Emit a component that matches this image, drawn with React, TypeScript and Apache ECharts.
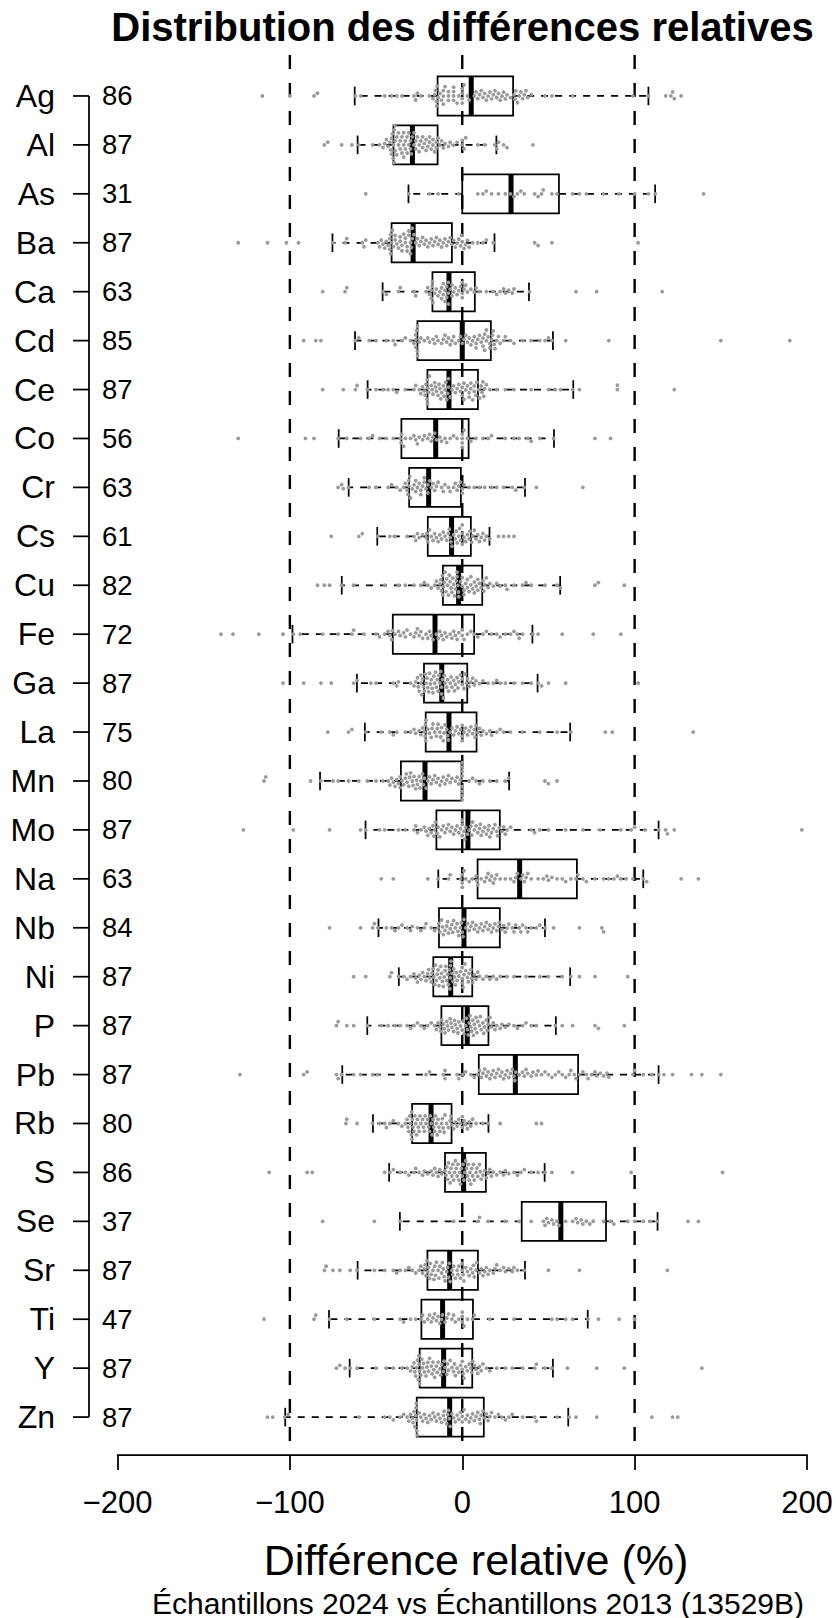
import React, { useEffect, useRef } from "react";
import * as echarts from "echarts";

// ---------------- DATA ----------------
const elements = ["Ag","Al","As","Ba","Ca","Cd","Ce","Co","Cr","Cs","Cu","Fe","Ga","La","Mn","Mo","Na","Nb","Ni","P","Pb","Rb","S","Se","Sr","Ti","Y","Zn"];
const counts = [86,87,31,87,63,85,87,56,63,61,82,72,87,75,80,87,63,84,87,87,87,80,86,37,87,47,87,87];

const whiskerLow  = [-62.4,-60.7,-31.2,-75.3,-46.2,-62.2,-54.9,-71.7,-65.9,-49.3,-69.9,-98.5,-61.1,-56.5,-82.5,-56.1,-13.9,-48.6,-36.8,-55.1,-69.6,-51.8,-42.4,-36.2,-60.7,-77.3,-65.3,-102.7];
const quart1      = [-14.3,-39.9,0,-41,-17.3,-26,-20.2,-35.3,-30.8,-20,-11.2,-40.3,-22.2,-21.2,-35.6,-15,8.9,-13.5,-16.8,-12.1,9.6,-29.1,-10,34.5,-20.2,-23.7,-24.7,-26.4];
const medians     = [5.2,-28.9,28.3,-28.5,-7.7,0,-7.7,-15.4,-19.5,-6.2,-2.1,-15.8,-11.9,-7.7,-21.6,3.3,33.3,1,-6.7,2.9,30.8,-18.1,0.8,57.2,-7.3,-11.4,-10.8,-7.3];
const quart3      = [29.5,-14.3,56.1,-6,7.3,16.6,9.1,3.7,-0.8,5,11.6,6.9,2.9,8.3,-0.4,21.8,66.5,21.8,5.8,15.2,67.2,-6.2,13.7,83.4,9.1,6.2,5.8,12.5];
const whiskerHigh = [108,19.8,111.9,18.7,38.7,52.6,64.4,53.2,36.4,15.8,56.8,40.7,43.7,62.6,27.2,113.9,105,48,62.6,54.3,113.9,15.2,47.8,113.3,36.4,72.8,52.6,61.5];

const xTicks = [-200, -100, 0, 100, 200];
const refLines = [-100, 0, 100];

const ptsAg = [-116,-100,-86,-84,-62,-59,-45,-41,-38,-35,-28,-27,-26,-24,-19,-17,-16,-15.5,-15,-14.8,-14.5,-14,-13,-12,-11,-11,-11,-10,-8,-8,-8,-5,-5,-5,-5,-3,-2,0,0,0,0,1,3,4,7,8,9,10,11,12,13,14,15,16,17,18,19,20,21,22,23,24,25,26,28,30,30.5,31,32,33,34,35,36,37,38,40,48,52,64,99,108,118,121,122,123,127];
const ptsAl = [-80,-78,-70,-64,-60,-52,-48,-46,-45,-44,-43,-42,-41.5,-41,-41,-40.5,-40,-40,-39.5,-39.5,-39,-39,-39,-38,-38,-37,-37,-36,-36,-35,-35,-34,-34,-34,-33,-33,-32,-32,-31,-31,-30,-30,-29.5,-29,-28,-28,-27,-27,-26,-25,-25,-24,-23,-23,-22,-21,-21,-20,-19,-19,-18,-17,-17,-16,-15,-15,-14,-13,-12,-11,-10,-8,-7,-5,-3,0,0,1,2,9,13,19,20,21,24,26,41];
const ptsAs = [-56,-31,-19,-14,-2,9,12,14,17,21,25,28,30,32,34,36,42,44,46,47,52,55,64,68,72,82,91,100,108,112,140];
const ptsBa = [-130,-113,-102,-95,-75,-68,-67,-58,-57,-56,-49,-48,-47,-46,-45,-44,-43,-42,-42,-41.5,-41.5,-41,-40.5,-40,-39,-39,-38,-37,-36,-36,-35,-35,-34,-33,-33,-32,-32,-31,-31,-30,-30,-29.5,-29,-29,-28,-27,-26,-25,-24,-23,-22,-21,-20,-19,-18,-17,-16,-15,-14,-13,-12,-11,-10,-9,-8,-7,-6,-5,-4,-3,-2,-1,-0.5,0,1,2,3,4,6,9,12,14,18,42,44,52,102];
const ptsCa = [-81,-68,-67,-46,-44,-37,-36,-28,-27,-21,-20,-19,-18,-18,-17.5,-17.3,-17,-16,-15,-14,-13,-12,-12,-11,-11,-10,-10,-9,-9,-8,-8,-8,-7,-6,-6,-5,-4,-3,-2,-1,0,0,0,1,2,3,5,7,8,10,14,18,20,22,24,25,27,29,30,39,66,78,116];
const ptsCd = [-92,-85,-82,-62,-60,-54,-50,-44,-40,-39,-35,-33,-30,-28,-27,-27,-27,-26.5,-26,-26,-26,-25,-24,-22,-20,-19,-17,-16,-15,-14,-12,-11,-10,-9,-8,-7,-6,-5,-4,-2,-1,0,1,2,3,4,5,6,7,8,8,9,10,11,12,12,13,13,14,14,15,16,16,17,17.5,18,18.5,19,20,21,22,24,25,28,30,35,40,45,48,50,52,60,85,150,190];
const ptsCe = [-81,-69,-62,-61,-55,-50,-46,-43,-40,-38,-33,-28,-27,-25,-24,-23,-22,-21.5,-21,-20.5,-20.3,-20.2,-20,-19.5,-19,-18,-17.5,-17,-16,-15.5,-15,-14,-13.5,-13,-12.5,-12,-11,-10.5,-10,-9.5,-9,-8.5,-8,-8,-7,-6,-5,-4,-3,-2,-1,0,0,1,1,2,3,4,4,5,5,6,7,7,8,8.5,9.5,10,11,11.5,12,12.5,13,14,16,20,25,30,40,50,54,57,64,68,90,90,123];
const ptsCo = [-130,-91,-86,-72,-67,-59,-54,-52,-48,-44,-40,-36,-35.5,-35.3,-34,-33,-30,-28,-27,-26,-25,-23,-22,-20,-19,-18,-17,-16,-15,-13,-12,-10,-9,-7,-5,-3,0,0,0,0,1,3,5,8,12,15,17,25,30,33,38,40,45,53,77,86];
const ptsCr = [-72,-70,-69,-66,-54,-50,-43,-41,-38,-36,-34,-33,-32,-31.5,-31,-31,-30.5,-30,-29,-28,-27,-27,-26,-25,-24,-24,-23,-22,-22,-21,-20,-20,-19,-18,-17,-16,-15,-14,-12,-11,-10,-8,-7,-5,-4,-3,-2,-1,0,0,1,4,7,10,13,17,20,24,29,31,36,43,70];
const ptsCs = [-76,-60,-58,-49,-42,-39,-32,-28,-27,-26,-25,-23,-21,-20.5,-20,-19,-18,-17,-16,-15,-14,-13,-12,-11,-10,-9,-8,-7.5,-7,-6.5,-6,-5,-4,-3.5,-3,-2,-1.5,-1,0,0,0,1,2,3,4,4.5,5.5,6,7,8,9,10,11,12,13,14,16,21,24,27,30];
const ptsCu = [-84,-80,-77,-70,-63,-45,-37,-33,-28,-24,-22,-20,-18,-16,-15,-14,-13,-12.5,-12,-11.5,-11.3,-11,-10.5,-10,-9.5,-9,-8.5,-8,-7.5,-7,-6.5,-6,-5.5,-5,-4.5,-4,-3.5,-3,-3,-2.5,-2.2,-2,-1,0,0,1,1,2,3,3,4,5,5,6,7,7,8,9,9,10,11,12,12.5,13,14,15,16,18,20,22,25,26,30,35,37,40,48,55,57,77,79,94];
const ptsFe = [-140,-133,-118,-104,-98,-94,-81,-72,-64,-63,-57,-50,-48,-45,-43,-42,-41,-40.5,-39,-37,-36,-34,-33,-32,-30,-28,-27,-26,-25,-24,-23,-21,-20,-19,-18,-17,-15,-14,-13,-12,-11,-10,-9,-7,-6,-5,-4,-3,-2,0,0,1,3,5,7,9,12,14,17,20,22,25,28,30,32,33,35,41,44,58,76,92];
const ptsGa = [-104,-92,-82,-76,-63,-61,-53,-50,-40,-38,-37,-30,-28,-27,-26,-25.5,-25,-24,-24,-23.5,-23,-22.5,-22,-21.5,-21,-20.5,-20,-19.5,-19,-18.5,-18,-17.5,-17,-16.5,-16,-15.5,-15,-14.5,-14,-13.5,-13,-12.5,-12,-12,-11.5,-11,-10.5,-10,-9,-8.5,-8,-7,-6.5,-6,-5,-4.5,-4,-3,-2.5,-2,-1,0,0,1,1.5,2.5,3,4,5,6,7,8,10,12,15,18,20,22,25,30,35,40,44,46,50,60,102];
const ptsLa = [-78,-66,-64,-56,-47,-42,-40,-38,-33,-30,-28,-27,-25,-24,-23,-22,-21.5,-21.3,-21.2,-21,-20,-19,-18,-17.5,-17,-16,-15,-14.5,-14,-13,-12.5,-12,-11,-10.5,-10,-9,-8.5,-8,-7,-6,-5,-4,-3,-2,-1,0,0,0,1,2,3,4,5,6,7,7.5,8,9,10,11,12,14,16,17,20,22,24,28,35,45,55,63,83,87,134];
const ptsMn = [-115,-114,-88,-82,-75,-72,-66,-60,-55,-50,-46,-43,-42,-41,-40,-39,-38,-37,-36,-36,-35,-34,-33,-32.5,-32,-31,-30.5,-30,-29,-28.5,-28,-27,-26.5,-26,-25,-24.5,-24,-23,-22.5,-22,-21,-20,-19,-18,-17,-16,-15,-14,-13,-12,-11,-10,-9,-8,-7,-6,-4,-3,-2,-1,0,0,0,0,0,0,0,0,4,6,8,10,12,16,20,25,27,48,50,55];
const ptsMo = [-127,-98,-77,-59,-56,-48,-45,-37,-33,-28,-27,-26,-24,-22,-21,-20,-19,-18,-17,-16.5,-16,-15.5,-14.5,-14,-13,-12,-11,-10,-9,-8,-7,-6,-5,-4,-3,-2,-1,0,0,0,1,1.5,2,3,4,5,5.5,6,7,8,9,10,10.5,11,12,13,14,15,15.5,16,17,18,19,20,20.5,21.5,23,24,25,26,28,40,42,45,50,60,70,80,92,98,100,106,114,118,119,123,197];
const ptsNa = [-47,-40,-20,-14,-8,-7,-1,0,0,0,1,2,4,6,8,8.5,9,11,13,14,15,16,17,18,19,20,22,25,28,30,31,32,34,35,36,37,38,40,44,47,49,50,52,55,58,60,63,66,67,70,72,77,82,85,88,90,92,95,99,105,107,127,137];
const ptsNb = [-77,-59,-52,-51,-49,-44,-41,-39,-37,-35,-32,-30,-29,-26,-24,-22,-21,-18,-16,-14,-13.6,-13,-12,-11.5,-11,-10,-9,-8.5,-8,-7,-6,-5.5,-5,-4,-3,-2.5,-2,-1,-0.5,0,0.5,1,2,3,4,5,6,7,8,9,10,11,12,13,14,15,16,17,18,19,20,21,21.5,23,24,25,26,27,29,30,31,33,34,35,37,38,40,43,45,48,53,68,81,82];
const ptsNi = [-63,-56,-42,-41,-37,-34,-32,-30,-28,-27,-26,-25,-24,-23,-22,-21,-20,-19.5,-19,-18,-17.5,-17,-16.5,-16,-15.5,-15,-14.5,-14,-13.5,-13,-12.5,-12,-11.5,-11,-10.5,-10,-9.5,-9,-8.5,-8,-7.5,-7.2,-7,-6.8,-6.5,-6,-5.5,-5,-4.5,-4,-3.5,-3,-2,-1,0,0,0,0.5,1,1.5,2,3,3.5,4,5,5.5,6,7,8,9,10,12,14,16,18,20,22,26,30,37,45,50,58,63,68,77,96];
const ptsP = [-73,-72,-67,-63,-55,-47,-43,-39,-36,-32,-30,-28,-26,-24,-22,-20,-18,-16,-15,-14,-13,-12.5,-12,-11,-10.5,-10,-9,-8.5,-8,-7,-6.5,-6,-5,-4.5,-4,-3,-2.5,-2,-1,0,0.5,1,2,2.5,3,3.5,4,4.5,5,5.5,6,6.5,7,7.5,8,8.5,9,10,10.5,11,12,12.5,13,14,14.5,15,16,17,18,19,20,22,23,25,27,30,32,35,37,40,43,54,58,64,77,79,94];
const ptsPb = [-129,-92,-90,-73,-72,-70,-63,-59,-52,-49,-21,-19,-11,-10,-10,-3,-2,0,2,5,7,9,10,11,12,13,14,15,16,17,18,19,20,21,22,23,24,25,26,27,28,29,30,30.5,31,33,35,36,37,38,40,41,43,44,46,48,50,52,54,56,58,60,62,63,65,66,68,70,72,73,75,77,78,80,82,84,85,99,100,105,110,114,117,122,133,139,150];
const ptsRb = [-67.5,-67,-61,-52,-48,-45,-44,-42,-40,-37,-35,-33,-32,-31.5,-31,-30.5,-30,-29.5,-29.3,-29.2,-29,-28.5,-28,-27.5,-27,-26.5,-26,-25.5,-25,-24.5,-24,-23,-22.5,-22,-21.5,-21,-20,-19.5,-19,-18.5,-18,-17.5,-17,-16.5,-16,-15.5,-15,-14.5,-14,-13.5,-13,-12,-11.5,-11,-10.5,-10,-9,-8,-7,-6.5,-6,-5,-4,-3,-2,-1,0,0,1,2,3,4,5,6,8,12,15,22,43,46];
const ptsS = [-112,-90,-87,-45,-42,-40,-36,-33,-31,-28,-27,-25,-23,-22,-20,-18,-17,-16,-15,-14,-13,-12,-10,-9.5,-9,-8.5,-8,-7.5,-7,-6.5,-6,-5.5,-5,-4.5,-4,-3.5,-3,-2.5,-2,-1.5,-1,-0.5,0,0.5,1,1.5,2,2.5,3,3.5,4,4.5,5,5.5,6,6.5,7,8,8.5,9,10,10.5,11,12,13,14,15,16,17,18,20,22,24,25,27,30,32,34,36,40,44,48,52,64,98,151];
const ptsSe = [-81,-51,-36,-5,9,10,15,25,33,40,47,48,49,50,52,53,55,56,60,64,66,67,69,70,72,74,76,82,86,88,96,100,105,109,113,131,137];
const ptsSr = [-80,-79,-75,-71,-65,-61,-51,-45,-40,-38,-36,-33,-31,-29,-27,-25,-24,-23,-22,-21.5,-21,-20.5,-20,-19.5,-19,-18.5,-18,-17,-16.5,-16,-15.5,-15,-14,-13.5,-13,-12,-11.5,-11,-10.5,-10,-9,-8.5,-8,-7.5,-7,-6,-5.5,-5,-4,-3,-2.5,-2,-1,0,0,0.5,1,2,3,4,5,6,6.5,7,8,8.5,10,11,12,13,14,15,16,18,19,20,22,24,25,27,29,30,32,36,50,68,119];
const ptsTi = [-115,-86,-85,-77,-67,-51,-36,-34,-30,-27,-24,-23,-22,-20,-19,-18,-17,-16,-15,-14,-13,-12,-11.5,-10,-9,-8,-6,-5,-4,-2,0,0,0,1,3,6,7,16,30,52,55,60,64,73,79,91,100];
const ptsY = [-73,-71,-68,-65,-61,-50,-44,-40,-35,-32,-30,-29,-28,-27.5,-27,-26.5,-26,-25.5,-25.2,-25,-24.8,-24.7,-24,-23.5,-23,-22.5,-22,-21,-20.5,-20,-19.5,-19,-18,-17.5,-17,-16.5,-16,-15,-14.5,-14,-13,-12.5,-12,-11,-10.5,-10,-9,-8.5,-8,-7,-6,-5,-4.5,-4,-3,-2,-1,0,0,0.5,1,2,3,4,5,5.5,6,7,8,9,10,11,12,14,16,20,25,29,35,42,43,48,52,61,78,94,139];
const ptsZn = [-113,-110,-103,-101,-60,-45,-42,-40,-36,-34,-32,-31,-30,-29,-28.5,-28,-27.5,-27,-26.8,-26.6,-26.5,-26.4,-26,-25,-24,-23,-22,-21,-20,-19,-18,-17,-16,-15,-14,-13,-12,-11,-10.5,-10,-9,-8.5,-8,-7.5,-7,-6,-5,-4,-3,-2,-1,0,0,1,2,3,4,5,6,7,8,9,10,10.5,11,12,13,14,15,16,17,19,21,23,25,27,29,35,42,43,55,62,66,78,110,122,125];

const points = [ptsAg, ptsAl, ptsAs, ptsBa, ptsCa, ptsCd, ptsCe, ptsCo, ptsCr, ptsCs, ptsCu, ptsFe, ptsGa, ptsLa, ptsMn, ptsMo, ptsNa, ptsNb, ptsNi, ptsP, ptsPb, ptsRb, ptsS, ptsSe, ptsSr, ptsTi, ptsY, ptsZn];

// ---------------- LAYOUT ----------------
const W = 836;
const H = 1618;
const PLOT_LEFT = 117.5;
const PLOT_RIGHT = 807;
const GRID_TOP = 71.5;
const ROW_H = 48.93;
const N = elements.length;
const X_MIN = -200;
const X_MAX = 200;
const PX_PER_UNIT = (PLOT_RIGHT - PLOT_LEFT) / (X_MAX - X_MIN);
const Y_AXIS_GAP = 28.5; // distance of the category axis line from the plot's left edge
const FONT = "'Liberation Sans', Arial, Helvetica, sans-serif";
const POINT_D = 4.4; // swarm spacing in px

function swarm(values: number[]): number[] {
  const order = values.map((_, i) => i).sort((a, b) => values[a] - values[b]);
  const placed: { x: number; y: number }[] = [];
  const out: number[] = new Array(values.length).fill(0);
  const d = POINT_D;
  let flip = 1;
  for (const i of order) {
    const x = values[i] * PX_PER_UNIT;
    const nb = placed.filter((p) => Math.abs(p.x - x) < d);
    const cands: number[] = [0];
    for (const p of nb) {
      const h = Math.sqrt(Math.max(0, d * d - (p.x - x) * (p.x - x)));
      cands.push(p.y + h, p.y - h);
    }
    cands.sort((a, b) => Math.abs(a) - Math.abs(b) || (a - b) * flip);
    let y = 0;
    for (const c of cands) {
      if (nb.every((p) => (p.x - x) * (p.x - x) + (p.y - c) * (p.y - c) >= d * d - 1e-6)) {
        y = c;
        break;
      }
    }
    if (y !== 0) flip = -flip;
    placed.push({ x, y });
    out[i] = y;
  }
  return out;
}

export default function App() {
  const ref = useRef<HTMLDivElement>(null);

  useEffect(() => {
    if (!ref.current) return;
    const chart = echarts.init(ref.current, null, { renderer: "svg" });

    const scatterData: number[][] = [];
    points.forEach((vals, row) => {
      const offs = swarm(vals);
      vals.forEach((v, k) => scatterData.push([v, row + offs[k] / ROW_H]));
    });

    const boxData = elements.map((_, i) => [i, whiskerLow[i], quart1[i], medians[i], quart3[i], whiskerHigh[i]]);

    const option: any = {
      animation: false,
      backgroundColor: "#ffffff",
      grid: {
        left: PLOT_LEFT,
        right: W - PLOT_RIGHT,
        top: GRID_TOP,
        height: ROW_H * N,
        containLabel: false,
      },
      xAxis: {
        type: "value",
        min: X_MIN,
        max: X_MAX,
        interval: 100,
        offset: 13.5,
        position: "bottom",
        axisLine: { show: true, onZero: false, lineStyle: { color: "#000", width: 1.75 } },
        axisTick: { show: true, length: 15, inside: false, lineStyle: { color: "#000", width: 1.75 } },
        splitLine: { show: false },
        axisLabel: {
          color: "#000",
          fontSize: 31,
          fontFamily: FONT,
          margin: 32,
          formatter: (v: number) => (xTicks.includes(v) ? (v < 0 ? "\u2212" + Math.abs(v) : String(v)) : ""),
        },
      },
      yAxis: [
        {
          type: "category",
          data: elements,
          inverse: true,
          position: "left",
          offset: Y_AXIS_GAP,
          axisLine: { show: false, onZero: false },
          axisTick: { show: false },
          axisLabel: { color: "#000", fontSize: 32, fontFamily: FONT, margin: 34 },
          splitLine: { show: false },
        },
        {
          type: "category",
          data: counts.map(String),
          inverse: true,
          position: "left",
          offset: Y_AXIS_GAP,
          axisLine: { show: false, onZero: false },
          axisTick: { show: false },
          axisLabel: { inside: true, color: "#000", fontSize: 27.5, fontFamily: FONT, margin: 13 },
          splitLine: { show: false },
        },
        {
          type: "value",
          min: -0.5,
          max: N - 0.5,
          inverse: true,
          show: false,
          axisLine: { onZero: false },
          splitLine: { show: false },
        },
      ],
      series: [
        {
          type: "custom",
          name: "refLines",
          xAxisIndex: 0,
          yAxisIndex: 2,
          data: refLines.map((v) => [v, 0]),
          encode: { x: 0, y: 1 },
          silent: true,
          z: 1,
          renderItem: (params: any, api: any) => {
            const x = api.coord([api.value(0), 0])[0];
            const yTop = api.coord([0, -0.5])[1] - 16.5;
            const yBot = api.coord([0, N - 0.5])[1] + 13.5;
            return {
              type: "line",
              shape: { x1: x, y1: yTop, x2: x, y2: yBot },
              style: { stroke: "#000", lineWidth: 2.4, lineDash: [14, 14] },
            };
          },
        },
        {
          type: "custom",
          name: "yAxisLine",
          xAxisIndex: 0,
          yAxisIndex: 2,
          data: elements.map((_, i) => [X_MIN, i]),
          encode: { x: 0, y: 1 },
          silent: true,
          z: 2,
          renderItem: (params: any, api: any) => {
            const row = api.value(1);
            const pt = api.coord([X_MIN, row]);
            const x = pt[0] - Y_AXIS_GAP;
            const children: any[] = [
              { type: "line", shape: { x1: x - 16, y1: pt[1], x2: x, y2: pt[1] }, style: { stroke: "#000", lineWidth: 1.75 } },
            ];
            if (row === 0) {
              const yEnd = api.coord([X_MIN, N - 1])[1];
              children.push({ type: "line", shape: { x1: x, y1: pt[1], x2: x, y2: yEnd }, style: { stroke: "#000", lineWidth: 1.75 } });
            }
            return { type: "group", children };
          },
        },
        {
          type: "custom",
          name: "boxes",
          xAxisIndex: 0,
          yAxisIndex: 2,
          data: boxData,
          encode: { y: 0, x: [1, 2, 3, 4, 5] },
          silent: true,
          z: 3,
          renderItem: (params: any, api: any) => {
            const row = api.value(0);
            const lo = api.coord([api.value(1), row]);
            const b1 = api.coord([api.value(2), row]);
            const md = api.coord([api.value(3), row]);
            const b3 = api.coord([api.value(4), row]);
            const hi = api.coord([api.value(5), row]);
            const bandH = api.size([0, 1])[1];
            const bh = bandH * 0.4;
            const sh = bandH * 0.19;
            const y = lo[1];
            const wStyle = { stroke: "#000", lineWidth: 1.75, lineDash: [7, 7] };
            return {
              type: "group",
              children: [
                { type: "line", shape: { x1: b1[0], y1: y, x2: lo[0], y2: y }, style: wStyle },
                { type: "line", shape: { x1: b3[0], y1: y, x2: hi[0], y2: y }, style: wStyle },
                { type: "line", shape: { x1: lo[0], y1: y - sh, x2: lo[0], y2: y + sh }, style: { stroke: "#000", lineWidth: 1.75 } },
                { type: "line", shape: { x1: hi[0], y1: y - sh, x2: hi[0], y2: y + sh }, style: { stroke: "#000", lineWidth: 1.75 } },
                {
                  type: "rect",
                  shape: { x: b1[0], y: y - bh, width: b3[0] - b1[0], height: 2 * bh },
                  style: { fill: "none", stroke: "#000", lineWidth: 1.75 },
                },
                { type: "line", shape: { x1: md[0], y1: y - bh, x2: md[0], y2: y + bh }, style: { stroke: "#000", lineWidth: 5 } },
              ],
            };
          },
        },
        {
          type: "scatter",
          name: "points",
          xAxisIndex: 0,
          yAxisIndex: 2,
          data: scatterData,
          symbol: "circle",
          symbolSize: 3.8,
          itemStyle: { color: "#9a9a9a", opacity: 1 },
          silent: true,
          z: 4,
        },
      ],
      graphic: [
        {
          type: "text",
          x: 462.5,
          y: 27,
          style: {
            text: "Distribution des différences relatives",
            font: `bold 40px ${FONT}`,
            fill: "#000",
            align: "center",
            verticalAlign: "middle",
          },
        },
        {
          type: "text",
          x: 476,
          y: 1560,
          style: {
            text: "Différence relative (%)",
            font: `43px ${FONT}`,
            fill: "#000",
            align: "center",
            verticalAlign: "middle",
          },
        },
        {
          type: "text",
          x: 478,
          y: 1603,
          style: {
            text: "Échantillons 2024 vs Échantillons 2013 (13529B)",
            font: `30px ${FONT}`,
            fill: "#000",
            align: "center",
            verticalAlign: "middle",
          },
        },
      ],
    };

    chart.setOption(option);
    return () => {
      chart.dispose();
    };
  }, []);

  return (
    <div
      ref={ref}
      style={{ position: "absolute", left: 0, top: 0, width: W, height: H, background: "#fff" }}
    />
  );
}
